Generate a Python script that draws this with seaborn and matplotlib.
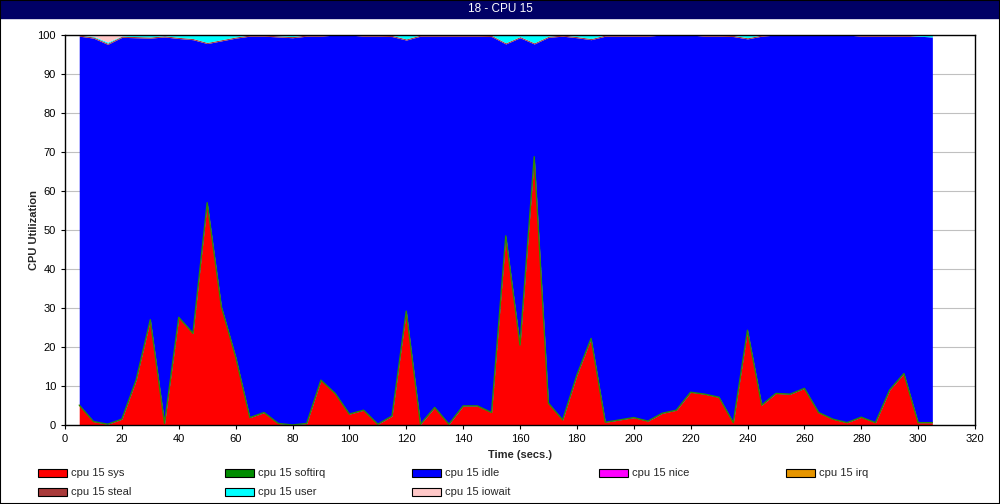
import numpy as np
import pandas as pd
import matplotlib
matplotlib.use('Agg')
import matplotlib.pyplot as plt
import seaborn as sns
from matplotlib.patches import Rectangle

# sample times (secs.)
time = list(range(5, 306, 5))

cpu_sys = [5.1, 0.9, 0.2, 1.5, 11.5, 27.0, 0.4, 27.6, 23.5, 57.0,
           30.3, 17.5, 1.9, 3.2, 0.4, 0.0, 0.4, 11.5, 8.1, 2.8,
           3.8, 0.2, 2.3, 29.2, 0.2, 4.5, 0.2, 4.9, 4.9, 3.2,
           48.5, 20.5, 68.8, 5.6, 1.3, 12.8, 22.2, 0.7, 1.3, 1.9,
           1.0, 3.0, 3.8, 8.4, 7.9, 7.1, 0.6, 24.3, 5.1, 8.1,
           7.9, 9.4, 3.2, 1.5, 0.6, 2.0, 0.6, 9.0, 13.2, 0.6,
           0.6]
cpu_softirq = [0.0] * 61
cpu_idle = [94.6, 98.3, 97.4, 97.9, 87.8, 72.2, 99.1, 71.5, 75.3, 40.8,
            68.2, 81.7, 97.8, 96.5, 99.1, 99.3, 99.3, 88.2, 91.9, 97.2,
            95.9, 99.5, 97.3, 69.5, 99.5, 95.2, 99.5, 94.8, 94.8, 96.4,
            49.2, 78.8, 28.9, 93.8, 98.4, 86.5, 76.6, 99.0, 98.4, 97.8,
            98.7, 97.0, 96.2, 91.6, 91.8, 92.6, 99.0, 74.7, 94.6, 91.9,
            92.1, 90.6, 96.8, 98.5, 99.4, 97.7, 99.1, 90.7, 86.5, 99.1,
            98.9]
cpu_nice = [0.0] * 61
cpu_irq = [0.0] * 61
cpu_steal = [0.3, 0.3, 0.3, 0.3, 0.3, 0.3, 0.3, 0.3, 0.3, 0.3,
             0.3, 0.3, 0.3, 0.3, 0.3, 0.3, 0.3, 0.3, 0.0, 0.0,
             0.3, 0.3, 0.3, 0.3, 0.3, 0.3, 0.3, 0.3, 0.3, 0.3,
             0.3, 0.3, 0.3, 0.3, 0.3, 0.3, 0.3, 0.3, 0.3, 0.3,
             0.3, 0.0, 0.0, 0.0, 0.3, 0.3, 0.3, 0.3, 0.3, 0.0,
             0.0, 0.0, 0.0, 0.0, 0.0, 0.3, 0.3, 0.3, 0.3, 0.0,
             0.0]
cpu_user = [0.0, 0.2, 0.3, 0.1, 0.4, 0.5, 0.2, 0.6, 0.9, 1.9,
            1.2, 0.5, 0.0, 0.0, 0.2, 0.4, 0.0, 0.0, 0.0, 0.0,
            0.0, 0.0, 0.1, 1.0, 0.0, 0.0, 0.0, 0.0, 0.0, 0.1,
            2.0, 0.4, 2.0, 0.3, 0.0, 0.4, 0.9, 0.0, 0.0, 0.0,
            0.0, 0.0, 0.0, 0.0, 0.0, 0.0, 0.1, 0.7, 0.0, 0.0,
            0.0, 0.0, 0.0, 0.0, 0.0, 0.0, 0.0, 0.0, 0.0, 0.3,
            0.5]
cpu_iowait = [0.0, 0.3, 1.8, 0.2] + [0.0] * 57

names = ['cpu 15 sys', 'cpu 15 softirq', 'cpu 15 idle', 'cpu 15 nice',
         'cpu 15 irq', 'cpu 15 steal', 'cpu 15 user', 'cpu 15 iowait']
colors = ['#ff0000', '#008c00', '#0000ff', '#ff00ff',
          '#e69500', '#a83a3a', '#00ffff', '#ffc8c8']

sns.set_style('white')
plt.rcParams['font.family'] = ['Liberation Sans', 'DejaVu Sans']

fig = plt.figure(figsize=(10, 5.04), dpi=100)
ax = fig.add_axes([0.065, 1 - 425 / 504, 0.91, 390 / 504])

ax.stackplot(time, cpu_sys, cpu_softirq, cpu_idle, cpu_nice, cpu_irq,
             cpu_steal, cpu_user, cpu_iowait, colors=colors, linewidth=0)

# green outline on top of the sys area
line_df = pd.DataFrame({'time': time,
                        'top': np.array(cpu_sys) + np.array(cpu_softirq)})
sns.lineplot(data=line_df, x='time', y='top', color='#2e8b00', lw=1, ax=ax)

ax.set_xlim(0, 320)
ax.set_ylim(0, 100)
ax.set_xticks(range(0, 321, 20))
ax.set_yticks(range(0, 101, 10))
ax.yaxis.grid(True, color='#c0c0c0', lw=0.8)
ax.set_axisbelow(True)
for s in ax.spines.values():
    s.set_color('black')
    s.set_linewidth(1)
ax.tick_params(direction='out', length=3, width=0.8, labelsize=8,
               colors='black', left=True, bottom=True)
ax.set_xlabel('Time (secs.)', fontsize=8, fontweight='bold', labelpad=4)
ax.set_ylabel('CPU Utilization', fontsize=8, fontweight='bold', labelpad=-1)

# title bar
fig.patches.append(Rectangle((0, 1 - 18 / 504), 1, 18 / 504,
                             transform=fig.transFigure, color='#000066',
                             zorder=0))
fig.text(0.5, 1 - 9 / 504, '18 - CPU 15', color='white', ha='center',
         va='center', fontsize=8.5)

# legend
for i, (name, c) in enumerate(zip(names, colors)):
    col, row = i % 5, i // 5
    x0 = (38 + 187 * col) / 1000
    yc = 1 - (473 + 19 * row) / 504
    fig.patches.append(Rectangle((x0, yc - 4 / 504), 29 / 1000, 8 / 504,
                                 transform=fig.transFigure, facecolor=c,
                                 edgecolor='black', lw=0.8))
    fig.text(x0 + 33 / 1000, yc, name, fontsize=8, va='center', ha='left')

# outer border
fig.patches.append(Rectangle((0, 0), 1, 1, transform=fig.transFigure,
                             fill=False, edgecolor='black', lw=1.5))

fig.savefig('out.png', dpi=100)
